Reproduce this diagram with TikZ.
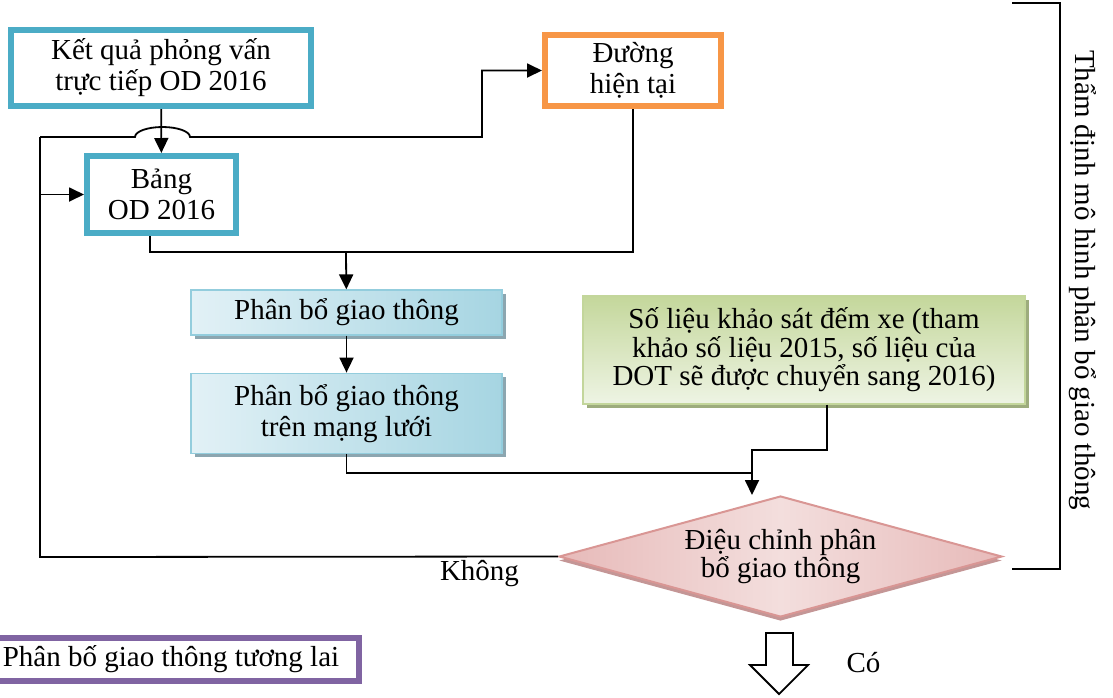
\documentclass[tikz,border=0pt]{standalone}
\usepackage{fontspec}
\setmainfont{Liberation Serif}
\usetikzlibrary{arrows.meta,positioning,shapes.geometric,shadows}
\definecolor{tealline}{RGB}{75,172,198}
\definecolor{orangeline}{RGB}{247,150,70}
\definecolor{violetline}{RGB}{128,100,162}
\definecolor{flowedge}{RGB}{147,205,221}
\definecolor{flowleft}{RGB}{226,241,246}
\definecolor{flowright}{RGB}{166,213,226}
\definecolor{flowshade}{RGB}{140,166,176}
\definecolor{dataedge}{RGB}{195,214,155}
\definecolor{datatop}{RGB}{196,215,155}
\definecolor{databot}{RGB}{238,244,228}
\definecolor{datashade}{RGB}{157,172,125}
\definecolor{checkedge}{RGB}{217,150,148}
\definecolor{checkside}{RGB}{231,186,185}
\definecolor{checkmid}{RGB}{243,222,221}
\definecolor{checkshade}{RGB}{196,150,150}

\begin{document}
\begin{tikzpicture}[
  x=0.5pt,y=-0.5pt,
  font=\fontsize{14.5}{15.5}\selectfont,
  ringbox/.style={draw=#1,line width=3pt,fill=white,align=center,inner sep=0pt},
  flowbox/.style={draw=flowedge,line width=.6pt,align=center,inner sep=0pt,minimum width=155.5pt,
    left color=flowleft,right color=flowright,
    drop shadow={shadow xshift=2pt,shadow yshift=-2pt,fill=flowshade,opacity=1}},
  databox/.style={draw=dataedge,line width=.6pt,align=center,inner sep=0pt,
    font=\fontsize{14.5}{14.2}\selectfont,top color=datatop,bottom color=databot,
    drop shadow={shadow xshift=2pt,shadow yshift=-2pt,fill=datashade,opacity=1}},
  decide/.style={diamond,aspect=3.66,draw=checkedge,line width=1pt,align=center,inner sep=0pt,
    font=\fontsize{14.5}{14.2}\selectfont,left color=checkside,right color=checkside,middle color=checkmid,
    drop shadow={shadow xshift=0pt,shadow yshift=-2pt,fill=checkshade,opacity=1}},
  conn/.style={line width=.9pt},
  arr/.style={conn,-{Triangle[length=7.5pt,width=7pt]}}
]
\useasboundingbox (0,0) rectangle (1113,697);

% input boxes
\node[ringbox=tealline,minimum width=150pt,minimum height=38pt] (kq) at (161,68) {Kết quả phỏng vấn\\trực tiếp OD 2016};
\node[ringbox=tealline,minimum width=74.5pt,minimum height=38.5pt] (bang) at (161.5,194.5) {Bảng\\OD 2016};
\node[ringbox=orangeline,minimum width=88pt,minimum height=35.5pt] (duong) at (633,70.5) {Đường\\hiện tại};

% assignment steps
\node[flowbox,minimum height=22.5pt] (pb1) at (346.5,312.5) {Phân bổ giao thông};
\node[flowbox,minimum height=40pt,below=18.5pt of pb1] (pb2) {Phân bổ giao thông\\trên mạng lưới};
\node[databox,minimum width=221pt,minimum height=54pt] (solieu) at (804,350) {Số liệu khảo sát đếm xe (tham\\khảo số liệu 2015, số liệu của\\DOT sẽ được chuyển sang 2016)};
\node[decide,minimum width=221.5pt,minimum height=60.5pt] (dc) at (780.5,556.5) {Điệu chỉnh phân\\bổ giao thông};
\node[ringbox=violetline,minimum width=188pt,minimum height=21.5pt] (future) at (171,659.5) {Phân bố giao thông tương lai};

% labels
\node[anchor=base] (khong) at (479.5,580) {Không};
\node[anchor=base] (co) at (863.5,672) {Có};
\node[rotate=-90] (tham) at (1083,280) {Thẩm định mô hình phân bổ giao thông};

% junctions
\coordinate (j1) at (346,252);
\coordinate (j2) at (752,473);
\coordinate (j3) at (752,450);
\coordinate (lb) at (40,557);
\coordinate (lt) at (40,137);
\coordinate (hop) at (135,137);
\coordinate (rt) at (482,137);

\draw[arr] (kq) -- (bang);
\draw[conn] ([xshift=-5.75pt]bang.south) |- (j1) -| (duong.south);
\draw[arr] (j1) -- (pb1);
\draw[arr] (pb1) -- (pb2);
\draw[conn] ([xshift=11.5pt]solieu.south) |- (j3) -- (j2);
\draw[arr] (pb2.south) |- (j2) -- (j2 |- dc.north);
\draw[conn] (dc.west) -- (lb) -- (lt);
\draw[arr] (lt) -- (hop) arc[start angle=180,end angle=0,x radius=13.75pt,y radius=5pt] -- (rt) |- (duong.west);
\draw[arr] (lt |- bang.west) -- (bang.west);

% bracket and exit arrow
\draw[line width=.7pt] (1012,3) -| (1060,569) -- (1012,569);
\draw[line width=.9pt,fill=white] (766,633) -- (793,633) -- (793,665) -- (808,665) -- (779,694) -- (750,665) -- (766,665) -- cycle;
\end{tikzpicture}
\end{document}
